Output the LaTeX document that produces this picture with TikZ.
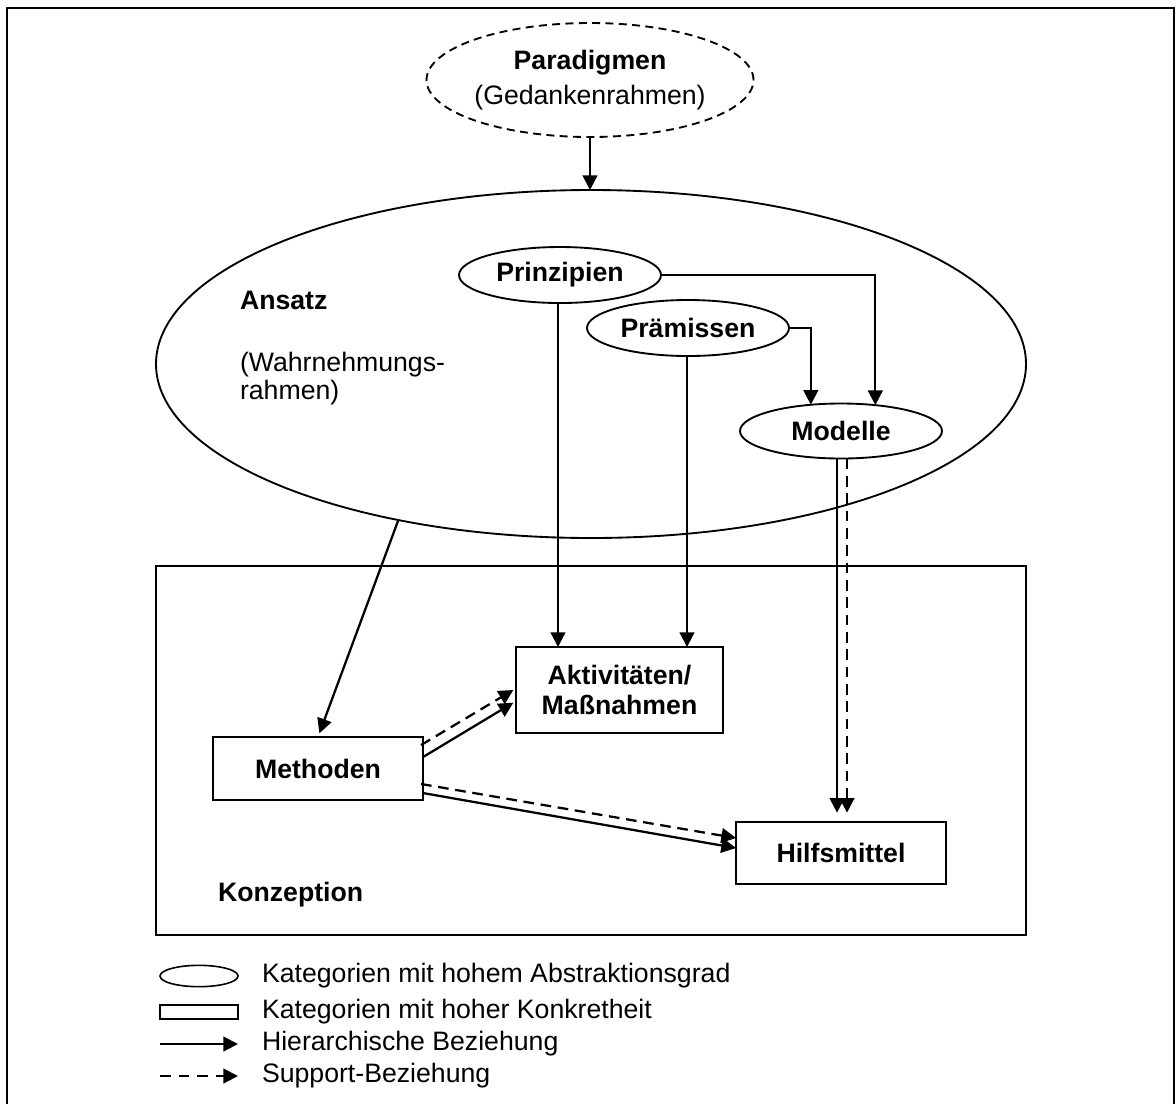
\documentclass[tikz,border=0pt]{standalone}
\usepackage{fontspec}
\setmainfont{Liberation Sans}
\usetikzlibrary{shapes.geometric,arrows.meta,calc}

\begin{document}
\begin{tikzpicture}[x=0.75pt,y=-0.75pt,
  font=\fontsize{20}{23}\selectfont,
  every node/.style={inner sep=0pt, outer sep=0pt},
  ell/.style={ellipse, draw, line width=1.4pt},
  box/.style={rectangle, draw, line width=1.6pt},
  lbl/.style={anchor=west},
  bold/.style={font=\fontsize{20}{23}\selectfont\bfseries},
  harrow/.style={line width=1.7pt, -{Triangle[length=11pt,width=11pt]}},
  sarrow/.style={harrow, dash pattern=on 8pt off 5pt}
]
\useasboundingbox (0,0) rectangle (1176,1104);

% outer frame
\draw[line width=2.2pt] (7,1104) -- (7,8) -- (1174,8) -- (1174,1104);

% containers
\node[ell, minimum width=652.5pt, minimum height=261pt] (ans) at (591,364) {};
\node[box, minimum width=652.5pt, minimum height=276.75pt] (konz) at (591,750.5) {};

\node[lbl, bold] (ansT) at (240,300) {Ansatz};
\node[lbl, align=left, font=\fontsize{20}{20.5}\selectfont] (ansW) at (240,378.5) {(Wahrnehmungs-\\rahmen)};
\node[lbl, bold] (konzT) at (218,895) {Konzeption};

% abstract categories
\node[ell, dash pattern=on 6pt off 4pt, align=center,
      minimum width=243pt, minimum height=85.5pt,
      font=\fontsize{20}{26}\selectfont] (par) at (590,80)
      {\textbf{Paradigmen}\\(Gedankenrahmen)};
\node[ell, bold, minimum width=151.5pt, minimum height=42pt] (pri) at (560,275) {Prinzipien};
\node[ell, bold, minimum width=151.5pt, minimum height=42pt] (pra) at (688,328) {Prämissen};
\node[ell, bold, minimum width=151.5pt, minimum height=41.25pt] (mod) at (841,431) {Modelle};

% concrete categories
\node[box, align=center, minimum width=155.25pt, minimum height=64.5pt,
      font=\fontsize{20}{22.5}\selectfont\bfseries] (akt) at (619.5,690) {Aktivitäten/\\Maßnahmen};
\node[box, bold, minimum width=157.5pt, minimum height=47.25pt] (met) at (318,768.5) {Methoden};
\node[box, bold, minimum width=157.5pt, minimum height=46.5pt] (hil) at (841,853) {Hilfsmittel};

% relations
\draw[harrow] (par.south) -- (par.south |- ans.north);
\draw[harrow] (pri.east) -| (mod.37);
\draw[harrow] (pra.east) -| (mod.139);
\draw[harrow] ([xshift=-1.5pt]pri.south) -- ([xshift=-1.5pt]pri.south |- akt.north);
\draw[harrow] ([xshift=-0.75pt]pra.south) -- ([xshift=-0.75pt]pra.south |- akt.north);
\draw[harrow, shorten >=7pt] ([xshift=-3pt]mod.south) -- ([xshift=-3pt]mod.south |- hil.north);
\draw[sarrow, shorten >=7pt] ([xshift=4.5pt]mod.south) -- ([xshift=4.5pt]mod.south |- hil.north);
\draw[harrow, shorten >=3pt] (ans.219) -- (met.north);
\draw[sarrow] ([xshift=-1.5pt,yshift=17.6pt]met.east) -- ([xshift=-2pt]akt.west);
\draw[harrow] ([yshift=8.6pt]met.east) -- ([xshift=-2pt,yshift=-9.5pt]akt.west);
\draw[sarrow] ([xshift=-1.5pt,yshift=-11.6pt]met.east) -- ([yshift=11.25pt]hil.west);
\draw[harrow] ([yshift=-18.4pt]met.east) -- ([yshift=3.75pt]hil.west);

% legend
\node[ell, line width=1.2pt, minimum width=58.5pt, minimum height=16pt] (legE) at (199,976) {};
\node[box, line width=1.2pt, minimum width=58.5pt, minimum height=10.5pt] (legR) at (199,1012) {};
\coordinate (legH1) at (160,1044);
\coordinate (legH2) at (238,1044);
\coordinate (legS1) at (160,1076);
\coordinate (legS2) at (238,1076);
\draw[harrow] (legH1) -- (legH2);
\draw[harrow, dash pattern=on 8pt off 6pt] (legS1) -- (legS2);
\node[lbl] (legEt) at (262,976) {Kategorien mit hohem Abstraktionsgrad};
\node[lbl] (legRt) at (262,1012) {Kategorien mit hoher Konkretheit};
\node[lbl] (legHt) at (262,1044) {Hierarchische Beziehung};
\node[lbl] (legSt) at (262,1076) {Support-Beziehung};
\end{tikzpicture}
\end{document}
